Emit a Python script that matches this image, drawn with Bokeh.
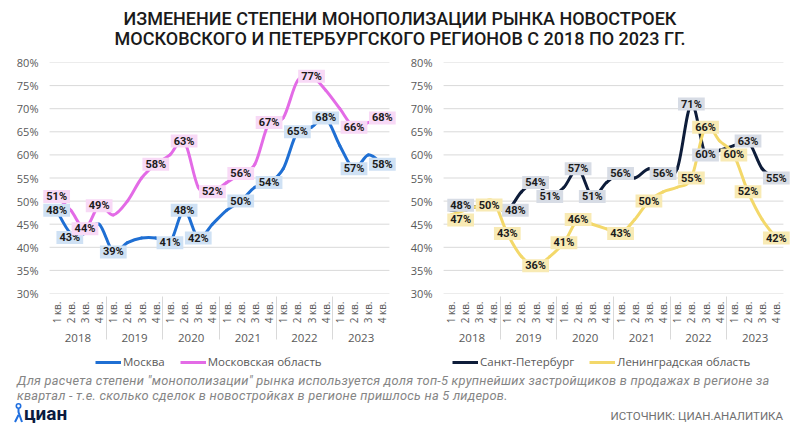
import math
from bokeh.plotting import figure
from bokeh.models import (FactorRange, Range1d, ColumnDataSource, PrintfTickFormatter,
                          Legend, LegendItem, Div, FixedTicker)
from bokeh.layouts import column, row
from bokeh.core.properties import value
from bokeh.embed import file_html
from bokeh.resources import INLINE

# ---------------- data ----------------
years = ["2018", "2019", "2020", "2021", "2022", "2023"]
quarters = ["1 кв.", "2 кв.", "3 кв.", "4 кв."]

moscow = [48, 43, 43, 45, 39, 41, 42, 42, 41, 48, 42, 45,
          48, 50, 53, 54, 57, 65, 66, 68, 62, 57, 60, 58]
mosobl = [51, 48, 44, 49, 47, 50, 55, 58, 60, 63, 53, 52,
          54, 56, 58, 67, 68, 76, 77, 74, 70, 66, 67, 68]
spb = [48, 48, 49, 49, 48, 52, 54, 51, 53, 57, 51, 54,
       56, 55, 57, 56, 57, 71, 60, 61, 62, 63, 57, 55]
lenobl = [47, 48, 49, 50, 43, 38, 36, 38, 41, 46, 45, 44,
          43, 46, 50, 52, 53, 55, 66, 63, 60, 52, 46, 42]

# indices of quarters whose value is printed on the chart
moscow_labeled = [0, 1, 4, 8, 9, 10, 13, 15, 17, 19, 21, 23]
mosobl_labeled = [0, 2, 3, 7, 9, 11, 13, 15, 18, 21, 23]
spb_labeled = [0, 4, 6, 7, 9, 10, 12, 15, 17, 18, 21, 23]
lenobl_labeled = [0, 3, 4, 6, 8, 9, 12, 14, 17, 18, 20, 21, 23]

y_ticks = [30, 35, 40, 45, 50, 55, 60, 65, 70, 75, 80]

series_names = ["Москва", "Московская область", "Санкт-Петербург", "Ленинградская область"]

title_text = ("ИЗМЕНЕНИЕ СТЕПЕНИ МОНОПОЛИЗАЦИИ РЫНКА НОВОСТРОЕК<br>"
              "МОСКОВСКОГО И ПЕТЕРБУРГСКОГО РЕГИОНОВ С 2018 ПО 2023 ГГ.")
note_lines = ['Для расчета степени "монополизации" рынка используется доля топ-5 крупнейших застройщиков в продажах в регионе за',
              'квартал - т.е. сколько сделок в новостройках в регионе пришлось на 5 лидеров.']
source_text = "ИСТОЧНИК: ЦИАН.АНАЛИТИКА"

factors = [(y, q) for y in years for q in quarters]

# ---------------- styling ----------------
AXIS_COLOR = "#595959"
GRID_COLOR = "#d9d9d9"
PAD = 0.5  # extra room (in categories) each side so edge labels are not clipped

# label nudges in screen pixels (dx right, dy up), where the original moved labels apart
LABEL_NUDGE = {
    ("moscow", 1): (-1, -4),
    ("spb", 0): (10, 5),
    ("lenobl", 0): (10, -5),
    ("lenobl", 3): (-4, -4),
    ("spb", 4): (8, 0),
}


def bezier_source(vals):
    # smoothed line (Catmull-Rom style) through every data point, drawn with Bezier glyphs
    n = len(vals)
    xs = [i + 0.5 for i in range(n)]
    d = dict(x0=[], y0=[], x1=[], y1=[], cx0=[], cy0=[], cx1=[], cy1=[])
    for i in range(n - 1):
        a, b = max(i - 1, 0), min(i + 2, n - 1)
        d["x0"].append(xs[i]); d["y0"].append(vals[i])
        d["x1"].append(xs[i + 1]); d["y1"].append(vals[i + 1])
        d["cx0"].append(xs[i] + (xs[i + 1] - xs[a]) / 6)
        d["cy0"].append(vals[i] + (vals[i + 1] - vals[a]) / 6)
        d["cx1"].append(xs[i + 1] - (xs[b] - xs[i]) / 6)
        d["cy1"].append(vals[i + 1] - (vals[b] - vals[i]) / 6)
    return ColumnDataSource(d)


def label_source(key, vals, idx):
    nud = [LABEL_NUDGE.get((key, i), (0, 0)) for i in idx]
    return ColumnDataSource(dict(x=[factors[i] for i in idx],
                                 y=[vals[i] for i in idx],
                                 t=[f"{vals[i]}%" for i in idx],
                                 dx=[n[0] for n in nud],
                                 dy=[-n[1] for n in nud]))


def make_chart(border_left, border_right, specs):
    p = figure(x_range=FactorRange(*factors, factor_padding=0, group_padding=0,
                                   subgroup_padding=0, range_padding=PAD,
                                   range_padding_units="absolute"),
               y_range=Range1d(30, 80),
               frame_width=354, frame_height=231,
               min_border_left=border_left, min_border_right=border_right,
               min_border_top=8, min_border_bottom=8,
               output_backend="svg", toolbar_location=None)
    p.outline_line_color = None
    p.background_fill_color = "white"
    p.xgrid.grid_line_color = None
    p.ygrid.grid_line_color = None

    # horizontal gridlines only across the category span
    p.segment(x0=[0] * len(y_ticks), x1=[len(factors)] * len(y_ticks),
              y0=y_ticks, y1=y_ticks, line_color=GRID_COLOR, line_width=1)

    p.yaxis.ticker = FixedTicker(ticks=y_ticks)
    p.yaxis.formatter = PrintfTickFormatter(format="%d%%")
    p.yaxis.axis_line_color = None
    p.yaxis.major_tick_line_color = None
    p.yaxis.minor_tick_line_color = None
    p.yaxis.major_tick_out = 0
    p.yaxis.minor_tick_out = 0
    p.yaxis.major_label_text_font = "Open Sans"
    p.yaxis.major_label_text_font_size = "11px"
    p.yaxis.major_label_text_color = AXIS_COLOR
    p.yaxis.major_label_standoff = 4

    ax = p.xaxis[0]
    ax.axis_line_color = None
    ax.major_tick_line_color = None
    ax.minor_tick_line_color = None
    ax.major_tick_out = 0
    ax.major_label_orientation = math.pi / 2
    ax.major_label_text_font = "Open Sans"
    ax.major_label_text_font_size = "10px"
    ax.major_label_text_color = AXIS_COLOR
    ax.major_label_standoff = 8
    ax.group_text_font = "Open Sans"
    ax.group_text_font_size = "11.5px"
    ax.group_text_font_style = "normal"
    ax.group_text_color = AXIS_COLOR
    ax.group_label_orientation = "horizontal"
    ax.separator_line_color = GRID_COLOR
    ax.separator_line_width = 1

    for key, name, vals, idx, color, bg in specs:
        p.bezier(x0="x0", y0="y0", x1="x1", y1="y1", cx0="cx0", cy0="cy0",
                 cx1="cx1", cy1="cy1", source=bezier_source(vals),
                 line_color=color, line_width=3, line_cap="round")
    for key, name, vals, idx, color, bg in specs:
        p.text(x="x", y="y", text="t", source=label_source(key, vals, idx),
               x_offset="dx", y_offset="dy",
               text_font=value("Roboto"), text_font_style="bold",
               text_font_size="11px", text_color="#1b1b1b",
               text_align="center", text_baseline="middle",
               background_fill_color=bg, padding=(3, 0))
    return p


def make_legend(specs, offset_x):
    lf = figure(width=400, height=28, toolbar_location=None, output_backend="svg",
                x_axis_type=None, y_axis_type=None, min_border=0)
    lf.outline_line_color = None
    lf.xgrid.visible = False
    lf.ygrid.visible = False
    items = []
    for key, name, vals, idx, color, bg in specs:
        keyline = lf.line(x=[float("nan")], y=[float("nan")], line_color=color, line_width=3)
        items.append(LegendItem(label=name, renderers=[keyline]))
    legend = Legend(items=items, orientation="horizontal", location=(offset_x, 4),
                    label_text_font="Open Sans", label_text_font_size="11.5px",
                    label_text_color=AXIS_COLOR, glyph_width=26, glyph_height=10,
                    label_standoff=2, spacing=15, padding=0, margin=0,
                    border_line_color=None, background_fill_alpha=0)
    lf.add_layout(legend)
    return lf


left_specs = [
    ("moscow", series_names[0], moscow, moscow_labeled, "#1f6fd3", "#cfe1f4"),
    ("mosobl", series_names[1], mosobl, mosobl_labeled, "#e36be6", "#f8d9f6"),
]
right_specs = [
    ("spb", series_names[2], spb, spb_labeled, "#0e1d3a", "#d7dce5"),
    ("lenobl", series_names[3], lenobl, lenobl_labeled, "#f3d86a", "#f8eab4"),
]

left = make_chart(42, 4, left_specs)
right = make_chart(36, 10, right_specs)
left_leg = make_legend(left_specs, 95)
right_leg = make_legend(right_specs, 52)

title = Div(text=f'<div style="width:800px;text-align:center;font-family:Roboto;font-weight:500;'
                 f'font-size:18px;line-height:20px;color:#1a1a1a;padding-top:9px;">{title_text}</div>',
            width=800, height=54, margin=(0, 0, 0, 0))

note_html = "".join(
    f'<div style="height:15px;line-height:15px;font-family:Roboto;font-style:italic;font-size:12.8px;'
    f'letter-spacing:0.25px;color:#858585;padding-left:17px;white-space:nowrap;">{line}</div>'
    for line in note_lines)
note = Div(text=f'<div>{note_html}</div>', width=800, height=30, margin=(0, 0, 0, 0))

logo = Div(text='<div style="display:flex;align-items:flex-end;padding-left:14px;">'
                '<svg width="9" height="20" viewBox="0 0 9 20">'
                '<circle cx="4.5" cy="3" r="2.2" fill="none" stroke="#1f6fe0" stroke-width="1.6"/>'
                '<path d="M4.5 5.5 V9 L8 19 M4.5 12 L1 19" fill="none" stroke="#1f6fe0" stroke-width="2"/>'
                '</svg><span style="font-family:Roboto;font-weight:700;font-size:19px;line-height:19px;'
                'color:#0b1b3f;margin-left:1px;">циан</span></div>',
           width=300, height=26, margin=(0, 0, 0, 0))
src = Div(text=f'<div style="width:483px;text-align:right;font-family:Roboto;font-size:11.5px;'
               f'color:#707070;padding-top:5px;">{source_text}</div>',
          width=500, height=26, margin=(0, 0, 0, 0))

layout = column(title, row(left, right), row(left_leg, right_leg), note, row(logo, src), spacing=0)

open("out.html", "w").write(file_html(layout, INLINE))
